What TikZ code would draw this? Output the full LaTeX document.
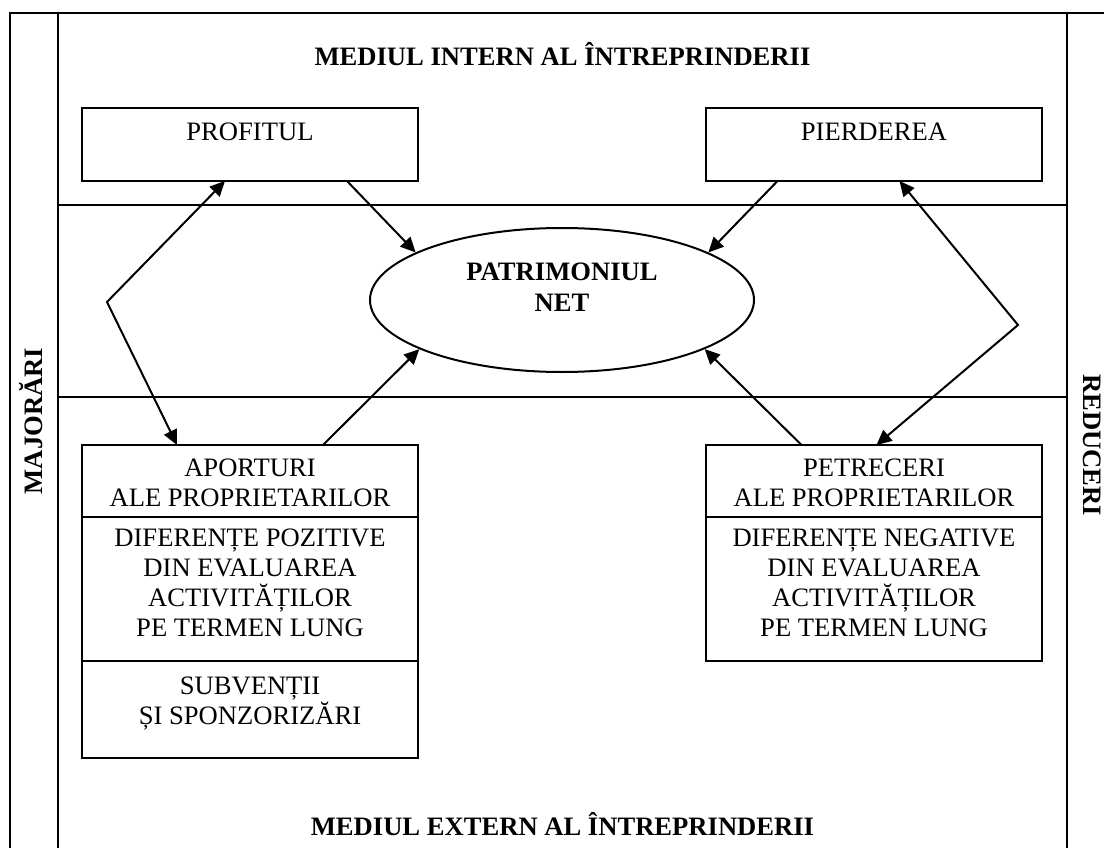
\documentclass[tikz,border=0pt]{standalone}
\usepackage{fontspec}
\setmainfont{Liberation Serif}
\usetikzlibrary{shapes.geometric, arrows.meta, positioning, calc}

\begin{document}
\begin{tikzpicture}[x=1pt,y=-1pt,line width=2pt,
  box/.style={draw,rectangle,minimum width=336pt,inner sep=0pt,outer sep=0pt},
  txt/.style={align=center,inner sep=0pt,anchor=north,font=\fontsize{26.6}{30}\selectfont},
  txtb/.style={txt,font=\fontsize{26.6}{31}\selectfont\bfseries},
  ttl/.style={inner sep=0pt,anchor=base,font=\fontsize{26.6}{30}\selectfont\bfseries},
  arr/.style={-{Triangle[length=15pt,width=14pt]}},
  biarr/.style={{Triangle[length=15pt,width=14pt]}-{Triangle[length=15pt,width=14pt]}}]
\useasboundingbox (0,0) rectangle (1104,848);
\clip (0,0) rectangle (1104,848);
% Frame and zones
\draw (10,13) rectangle (1115,880);
\draw (58,13) -- (58,880);
\draw (1067,13) -- (1067,880);
\draw (58,205) -- (1067,205);
\draw (58,397) -- (1067,397);
\node[ttl] (intern) at (562.5,66) {MEDIUL INTERN AL ÎNTREPRINDERII};
\node[ttl] (extern) at (562.5,835) {MEDIUL EXTERN AL ÎNTREPRINDERII};
\node[ttl,rotate=90] (major) at (42,421) {MAJORĂRI};
\node[ttl,rotate=-90] (reduc) at (1083,445) {REDUCERI};
% Result boxes
\node[box,minimum height=73pt,anchor=north west] (profit) at (82,108) {};
\node[box,minimum height=73pt,anchor=north west] (pierd) at (706,108) {};
\node[txt] (profittxt) at ([yshift=-14pt]profit.north) {PROFITUL};
\node[txt] (pierdtxt) at ([yshift=-14pt]pierd.north) {PIERDEREA};
% Net worth
\node[draw,ellipse,minimum width=384pt,minimum height=144pt,inner sep=0pt] (patr) at (562,300) {};
\node[txtb] (patrtxt) at (562,262) {PATRIMONIUL\\NET};
% Left column
\node[box,minimum height=72pt,anchor=north west] (aport) at (82,445) {};
\node[box,minimum height=144pt,below=0pt of aport] (difpoz) {};
\node[box,minimum height=97pt,below=0pt of difpoz] (subv) {};
\node[txt] (aporttxt) at ([yshift=-13pt]aport.north) {APORTURI\\ALE PROPRIETARILOR};
\node[txt] (difpoztxt) at ([yshift=-11pt]difpoz.north) {DIFERENȚE POZITIVE\\DIN EVALUAREA\\ACTIVITĂȚILOR\\PE TERMEN LUNG};
\node[txt] (subvtxt) at ([yshift=-15pt]subv.north) {SUBVENȚII\\ȘI SPONZORIZĂRI};
% Right column
\node[box,minimum height=72pt,anchor=north west] (petr) at (706,445) {};
\node[box,minimum height=144pt,below=0pt of petr] (difneg) {};
\node[txt] (petrtxt) at ([yshift=-13pt]petr.north) {PETRECERI\\ALE PROPRIETARILOR};
\node[txt] (difnegtxt) at ([yshift=-11pt]difneg.north) {DIFERENȚE NEGATIVE\\DIN EVALUAREA\\ACTIVITĂȚILOR\\PE TERMEN LUNG};
% Arrows
\coordinate (lbend) at (107,302);
\coordinate (rbend) at (1018,325);
\draw[arr] ([xshift=97pt]profit.south) -- (patr.162);
\draw[arr] ([xshift=-96.5pt]pierd.south) -- (patr.18);
\draw[arr] ([xshift=73pt]aport.north) -- (patr.199);
\draw[arr] ([xshift=-72.5pt]petr.north) -- (patr.341);
\draw[biarr] ([xshift=-25pt]profit.south) -- (lbend) -- ([xshift=-73pt]aport.north);
\draw[biarr] ([xshift=25.5pt]pierd.south) -- (rbend) -- ([xshift=2.5pt]petr.north);
\end{tikzpicture}
\end{document}
